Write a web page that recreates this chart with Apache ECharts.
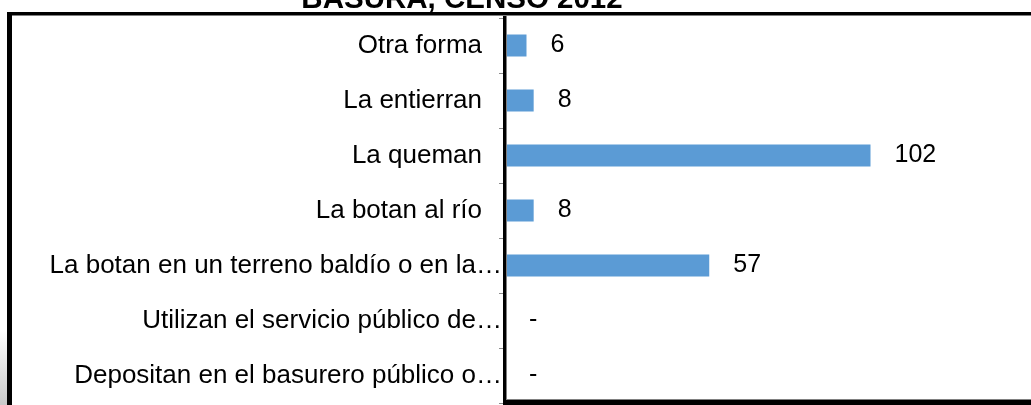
<!DOCTYPE html>
<html>
<head>
<meta charset="utf-8">
<script src="https://cdn.jsdelivr.net/npm/echarts@6/dist/echarts.min.js"></script>
<style>
  html, body { margin: 0; padding: 0; background: #fff; }
  #chart { width: 1031px; height: 405px; }
</style>
</head>
<body>
<div id="chart"></div>
<script>
// Disposal of household waste, census 2012 (top to bottom)
const categories = [
  'Otra forma',
  'La entierran',
  'La queman',
  'La botan al río',
  'La botan en un terreno baldío o en la…',
  'Utilizan el servicio público de…',
  'Depositan en el basurero público o…'
];
const households = [6, 8, 102, 8, 57, 0, 0];
const titleText = 'BASURA, CENSO 2012';

const FONT = "'Liberation Sans', Arial, sans-serif";
const chart = echarts.init(document.getElementById('chart'), null, { renderer: 'canvas' });

chart.setOption({
  animation: false,
  backgroundColor: '#fff',
  grid: { left: 505, right: 96, top: 18, bottom: 2, containLabel: false },
  xAxis: {
    type: 'value',
    min: 0,
    max: 120,
    axisLine: { show: false },
    axisTick: { show: false },
    axisLabel: { show: false },
    splitLine: { show: false }
  },
  yAxis: {
    type: 'category',
    data: categories,
    inverse: true,
    axisLine: { show: true, onZero: false, lineStyle: { color: '#000', width: 3 } },
    axisTick: { show: true, length: 6, lineStyle: { color: '#8c8c8c', width: 1 } },
    axisLabel: {
      margin: 3,
      fontFamily: FONT,
      fontSize: 26,
      color: '#000',
      formatter: v => v.endsWith('…') ? '{t|' + v + '}' : '{n|' + v + '}',
      rich: {
        t: { fontFamily: FONT, fontSize: 26, color: '#000' },
        n: { fontFamily: FONT, fontSize: 26, color: '#000', padding: [0, 20, 0, 0] }
      }
    },
    splitLine: { show: false }
  },
  series: [{
    type: 'bar',
    data: households,
    barWidth: 22,
    itemStyle: { color: '#5B9BD5' },
    label: {
      show: true,
      position: 'right',
      distance: 24,
      fontFamily: FONT,
      fontSize: 25,
      color: '#000',
      formatter: p => p.value === 0 ? '-' : String(p.value)
    }
  }],
  graphic: [
    // soft shadow at the lower-left edge
    {
      type: 'rect', z: 0,
      shape: { x: 0, y: 330, width: 7, height: 75 },
      style: {
        fill: new echarts.graphic.LinearGradient(0, 0, 0, 1, [
          { offset: 0, color: 'rgba(200,200,200,0)' },
          { offset: 1, color: 'rgba(200,200,200,1)' }
        ])
      }
    },
    // frame: top and left edges
    { type: 'rect', z: 10, shape: { x: 7, y: 12, width: 1024, height: 3 }, style: { fill: '#000' } },
    { type: 'rect', z: 10, shape: { x: 7, y: 15, width: 1024, height: 1 }, style: { fill: '#808080' } },
    { type: 'rect', z: 10, shape: { x: 7, y: 12, width: 5, height: 393 }, style: { fill: '#000' } },
    // left edge of the plot area (category axis line)
    { type: 'rect', z: 10, shape: { x: 503, y: 16, width: 3, height: 389 }, style: { fill: '#000' } },
    { type: 'rect', z: 10, shape: { x: 506, y: 16, width: 1, height: 389 }, style: { fill: '#808080' } },
    // bottom edge of the plot area
    { type: 'rect', z: 10, shape: { x: 506, y: 399, width: 525, height: 1 }, style: { fill: '#808080' } },
    { type: 'rect', z: 10, shape: { x: 506, y: 400, width: 525, height: 5 }, style: { fill: '#000' } },
    // title
    {
      type: 'text', z: 10,
      style: {
        text: titleText,
        x: 462, y: 0,
        align: 'center',
        verticalAlign: 'middle',
        font: 'bold 29.5px ' + FONT,
        fill: '#000'
      }
    }
  ]
});
</script>
</body>
</html>
